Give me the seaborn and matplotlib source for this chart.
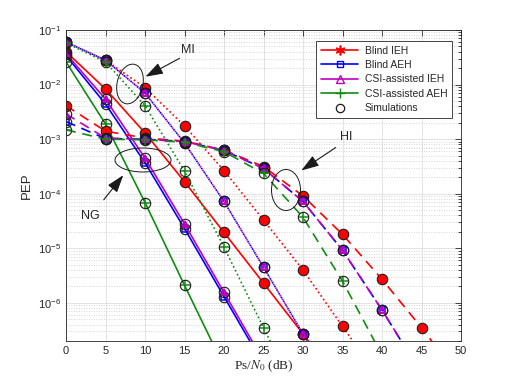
import numpy as np
import pandas as pd
import matplotlib
matplotlib.use("Agg")
import matplotlib.pyplot as plt
import seaborn as sns
from matplotlib.patches import Ellipse
from matplotlib.lines import Line2D
from matplotlib.ticker import LogLocator, NullFormatter, FixedLocator

nan = np.nan
snr_db = [0, 5, 10, 15, 20, 25, 30, 35, 40, 45, 50]

# No gain (NG) -- solid
ng_blind_ieh = [0.040, 0.0083, 1.3e-3, 1.66e-4, 1.95e-5, 2.3e-6, 2.7e-7, 3.0e-8, nan, nan, nan]
ng_blind_aeh = [0.034, 0.0044, 3.7e-4, 2.3e-5, 1.3e-6, 7.4e-8, nan, nan, nan, nan, nan]
ng_csi_ieh = [0.037, 0.0054, 4.5e-4, 2.8e-5, 1.55e-6, 8.7e-8, nan, nan, nan, nan, nan]
ng_csi_aeh = [0.026, 0.0019, 6.9e-5, 2.1e-6, 6.8e-8, nan, nan, nan, nan, nan, nan]

# MI -- dotted
mi_blind_ieh = [0.060, 0.028, 0.0088, 1.75e-3, 2.65e-4, 3.3e-5, 4.0e-6, 3.7e-7, 3.5e-8, nan, nan]
mi_blind_aeh = [0.060, 0.028, 0.0070, 8.5e-4, 7.2e-5, 4.5e-6, 2.7e-7, 1.6e-8, nan, nan, nan]
mi_csi_ieh = [0.060, 0.028, 0.0070, 8.5e-4, 7.2e-5, 4.5e-6, 2.7e-7, 1.6e-8, nan, nan, nan]
mi_csi_aeh = [0.058, 0.026, 0.0041, 2.6e-4, 1.05e-5, 3.5e-7, 1.2e-8, nan, nan, nan, nan]

# HI -- dashed
hi_blind_ieh = [0.0041, 1.4e-3, 1.05e-3, 9.2e-4, 6.3e-4, 3.15e-4, 9.1e-5, 1.8e-5, 2.7e-6, 3.5e-7, 4.0e-8]
hi_blind_aeh = [0.0021, 1.02e-3, 1.0e-3, 9.0e-4, 6.2e-4, 2.9e-4, 7.2e-5, 9.2e-6, 7.4e-7, 5.0e-8, nan]
hi_csi_ieh = [0.0029, 1.05e-3, 1.0e-3, 9.0e-4, 6.2e-4, 2.9e-4, 7.2e-5, 9.2e-6, 7.4e-7, 5.0e-8, nan]
hi_csi_aeh = [0.00148, 1.0e-3, 0.97e-3, 8.8e-4, 5.9e-4, 2.35e-4, 3.7e-5, 2.5e-6, 1.1e-7, nan, nan]

legend_labels = ["Blind IEH", "Blind AEH", "CSI-assisted IEH", "CSI-assisted AEH", "Simulations"]
x_ticks = [0, 5, 10, 15, 20, 25, 30, 35, 40, 45, 50]

RED = "#ff0000"
BLUE = "#0000ff"
MAG = "#bf00bf"
GRN = "#118c11"

sns.set_theme(style="white")
plt.rcParams['font.family'] = ['Liberation Sans', 'DejaVu Sans']

fig = plt.figure(figsize=(5.12, 3.84), dpi=100)
ax = fig.add_axes([66/512, 1-341/384, 395/512, 311/384])
ax.set_yscale('log')

ASTER = (6, 2, 0)
schemes = [
    (RED, 'o', dict(ms=6.5, mfc=RED, mec=RED, mew=0.8)),
    (BLUE, 's', dict(ms=4.5, mfc='none', mec=BLUE, mew=1.1)),
    (MAG, '^', dict(ms=5, mfc='none', mec=MAG, mew=1.4)),
    (GRN, '+', dict(ms=6.5, mec=GRN, mew=1.1)),
]
groups = [
    ('-', [ng_blind_ieh, ng_blind_aeh, ng_csi_ieh, ng_csi_aeh]),
    ((0, (1, 1.6)), [mi_blind_ieh, mi_blind_aeh, mi_csi_ieh, mi_csi_aeh]),
    ((0, (6, 4)), [hi_blind_ieh, hi_blind_aeh, hi_csi_ieh, hi_csi_aeh]),
]

for ls, series in groups:
    for i, (vals, (col, mk, mkw)) in enumerate(zip(series, schemes)):
        df = pd.DataFrame({'snr': snr_db, 'pep': vals}).dropna()
        this_ls = ls
        if isinstance(ls, tuple) and i == 1:
            this_ls = (ls[1][0] + ls[1][1], ls[1]) if ls[1][0] > 2 else (1.3, ls[1])
        sns.lineplot(data=df, x='snr', y='pep', ax=ax, color=col, linestyle=this_ls,
                     lw=1.2, marker=mk, errorbar=None, sort=False, **mkw)
        sns.lineplot(data=df, x='snr', y='pep', ax=ax, color='k', linestyle='none',
                     marker='o', ms=7.5, mfc='none', mec='k', mew=0.8, errorbar=None,
                     sort=False)

ax.set_xlim(0, 50)
ax.set_ylim(2e-7, 1e-1)
ax.xaxis.set_major_locator(FixedLocator(x_ticks))
ax.yaxis.set_major_locator(LogLocator(base=10, numticks=20))
ax.yaxis.set_minor_locator(LogLocator(base=10, subs=np.arange(2, 10), numticks=100))
ax.yaxis.set_minor_formatter(NullFormatter())

ax.grid(True, which='major', color='#dedede', lw=0.6, ls='-')
ax.grid(True, which='minor', axis='y', color='#c8c8c8', lw=0.6, ls=(0, (1, 2)))
ax.set_axisbelow(True)

ax.tick_params(axis='both', which='both', direction='in', top=True, right=True,
               labelsize=8, colors='#262626', width=0.6)
ax.tick_params(axis='both', which='major', length=4)
ax.tick_params(axis='y', which='minor', length=2)
for s in ax.spines.values():
    s.set_visible(True)
    s.set_color('#262626')
    s.set_linewidth(0.6)

ax.set_xlabel(r'Ps/$N_0$ (dB)', fontsize=9.5, family='Liberation Serif',
              math_fontfamily='stix', color='#262626', labelpad=2)
ax.set_ylabel('PEP', fontsize=9.5, color='#262626', labelpad=4)

# Annotations
def fx(px):
    return (px - 66) / 395
def fy(py):
    return (341 - py) / 311

ell_kw = dict(transform=ax.transAxes, fill=False, ec='k', lw=0.7, zorder=5)
ax.add_patch(Ellipse((fx(130), fy(84)), 26/395, 40/311, angle=-8, **ell_kw))
ax.add_patch(Ellipse((fx(143), fy(160)), 56/395, 24/311, angle=0, **ell_kw))
ax.add_patch(Ellipse((fx(286), fy(190)), 29/395, 41/311, angle=0, **ell_kw))

arrow_kw = dict(arrowstyle='-|>,head_length=0.9,head_width=0.3', color='k', lw=0.8)
ax.annotate('', xy=(fx(143), fy(78)), xytext=(fx(182), fy(57)),
            xycoords='axes fraction', textcoords='axes fraction', arrowprops=arrow_kw)
ax.annotate('', xy=(fx(125), fy(173)), xytext=(fx(102), fy(202)),
            xycoords='axes fraction', textcoords='axes fraction', arrowprops=arrow_kw)
ax.annotate('', xy=(fx(299), fy(172)), xytext=(fx(338), fy(146)),
            xycoords='axes fraction', textcoords='axes fraction', arrowprops=arrow_kw)
ax.text(fx(188), fy(50), 'MI', transform=ax.transAxes, fontsize=9, ha='center', va='center')
ax.text(fx(90), fy(216), 'NG', transform=ax.transAxes, fontsize=9, ha='center', va='center')
ax.text(fx(346), fy(137), 'HI', transform=ax.transAxes, fontsize=9, ha='center', va='center')

# Legend
handles = [
    Line2D([], [], color=RED, lw=1.2, marker=ASTER, ms=7, mfc=RED, mec=RED, mew=1.2),
    Line2D([], [], color=BLUE, lw=1.2, marker='s', ms=5, mfc='none', mec=BLUE, mew=1.0),
    Line2D([], [], color=MAG, lw=1.2, marker='^', ms=6, mfc='none', mec=MAG, mew=1.0),
    Line2D([], [], color=GRN, lw=1.2, marker='+', ms=7, mec=GRN, mew=1.0),
    Line2D([], [], color='k', ls='none', marker='o', ms=6, mfc='none', mec='k', mew=0.9),
]
leg = ax.legend(handles, legend_labels, loc='upper right',
                bbox_to_anchor=(fx(452), fy(41)), bbox_transform=ax.transAxes,
                fontsize=7.5, frameon=True, fancybox=False, framealpha=1,
                edgecolor='#262626', handlelength=3.6, handletextpad=0.6,
                labelspacing=0.42, borderpad=0.45, borderaxespad=0)
leg.get_frame().set_linewidth(0.6)

fig.savefig('out.png', dpi=100)
